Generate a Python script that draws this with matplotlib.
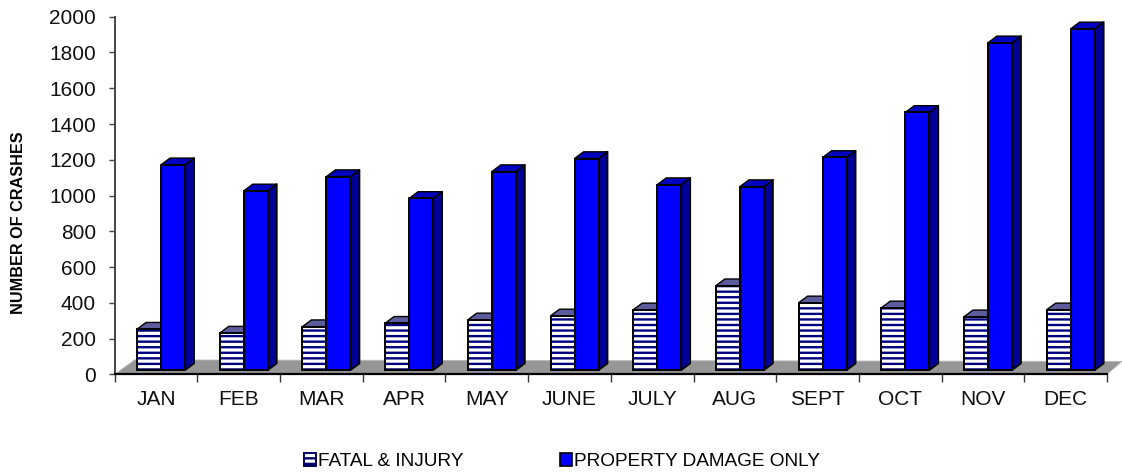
import matplotlib
matplotlib.use("Agg")
import matplotlib.pyplot as plt
from matplotlib.patches import Polygon, Patch

plt.rcParams['font.family'] = ['Liberation Sans', 'DejaVu Sans']
plt.rcParams['hatch.linewidth'] = 1.7

months = ["JAN", "FEB", "MAR", "APR", "MAY", "JUNE", "JULY", "AUG", "SEPT", "OCT", "NOV", "DEC"]
fatal_injury = [229, 207, 243, 262, 281, 303, 337, 472, 376, 348, 298, 337]
property_damage = [1148, 1002, 1082, 960, 1110, 1183, 1037, 1026, 1189, 1441, 1830, 1908]
y_ticks = list(range(0, 2001, 200))
series_names = ["FATAL & INJURY", "PROPERTY DAMAGE ONLY"]

W, H = 1122, 472
fig = plt.figure(figsize=(W / 100, H / 100), dpi=100, facecolor="white")
L, R, Y0, Y2 = 114.7, 1107.0, 374.4, 16.7
ax = fig.add_axes([L / W, 1 - Y0 / H, (R - L) / W, (Y0 - Y2) / H])
ax.set_xlim(0, 12)
ax.set_ylim(0, 2000)
ax.patch.set_alpha(0)

px = 12 / (R - L)            # data units per pixel, x
py = 2000 / (Y0 - Y2)        # data units per pixel, y
dx, dy = 9 * px, 6.7 * py    # bar depth
bw = 24 * px
base = 4.3 * py
shift = 5 * px

# floor
ax.add_patch(Polygon([(0, 0), (12, 0), (12 + 15 * px, 13 * py), (20 * px, 14.5 * py)],
                     closed=True, fc="#969696", ec="#b8b8b8", lw=0.6, clip_on=False, zorder=1))


def draw_bar(x, v, front, top, side, hatch=None, z=2):
    t = base + v
    ax.add_patch(Polygon([(x + bw, base), (x + bw + dx, base + dy), (x + bw + dx, t + dy), (x + bw, t)],
                         closed=True, fc=side, ec="black", lw=1.3, zorder=z, joinstyle="round"))
    ax.add_patch(Polygon([(x, t), (x + bw, t), (x + bw + dx, t + dy), (x + dx, t + dy)],
                         closed=True, fc=top, ec="black", lw=1.0, zorder=z, joinstyle="round"))
    if hatch:
        ax.bar(x, v, bw, bottom=base, align="edge", color="white", edgecolor="#000080",
               hatch=hatch, lw=0, zorder=z)
        ax.bar(x, v, bw, bottom=base, align="edge", fill=False, edgecolor="black", lw=1.4, zorder=z)
    else:
        ax.bar(x, v, bw, bottom=base, align="edge", color=front, edgecolor="black", lw=1.4, zorder=z)


for i, (f, p) in enumerate(zip(fatal_injury, property_damage)):
    c = i + 0.5 + shift
    draw_bar(c - bw, f, None, "#5c5c9c", "#000080", hatch="---", z=2 + i * 0.01)
    draw_bar(c, p, "#0000ff", "#0000c0", "#000099", z=2.005 + i * 0.01)

for s in ("top", "right"):
    ax.spines[s].set_visible(False)
ax.spines["left"].set_color("#444444")
ax.spines["left"].set_linewidth(1.4)
ax.spines["bottom"].set_color("black")
ax.spines["bottom"].set_linewidth(1.6)
ax.spines["bottom"].set_zorder(5)

ax.set_yticks(y_ticks)
ax.tick_params(axis="y", length=4.5, width=1.0, color="#444444", labelsize=15, labelcolor="#111111", pad=9)
ax.set_xticks(range(13))
ax.set_xticklabels([])
ax.tick_params(axis="x", which="major", length=6, width=1.0, color="#333333")
ax.set_xticks([i + 0.5 for i in range(12)], minor=True)
ax.set_xticklabels(months, minor=True, fontsize=15, color="#111111")
ax.tick_params(axis="x", which="minor", length=0, pad=11)
ax.set_ylabel("NUMBER OF CRASHES", fontsize=11.7, fontweight="bold")
ax.yaxis.set_label_coords((26 - L) / (R - L), 0.423)

handles = [Patch(fc="white", ec="#000060", hatch="---", lw=1.4),
           Patch(fc="#0000ff", ec="black", lw=1.2)]
fig.legend(handles, series_names, loc="lower left", ncol=2, frameon=False,
           bbox_to_anchor=(300 / W, 1 - 474 / H), fontsize=13.7, handlelength=0.63,
           handleheight=0.6, handletextpad=0.12, columnspacing=5.05,
           borderpad=0.2, borderaxespad=0)

fig.savefig("out.png", dpi=100, facecolor="white")
